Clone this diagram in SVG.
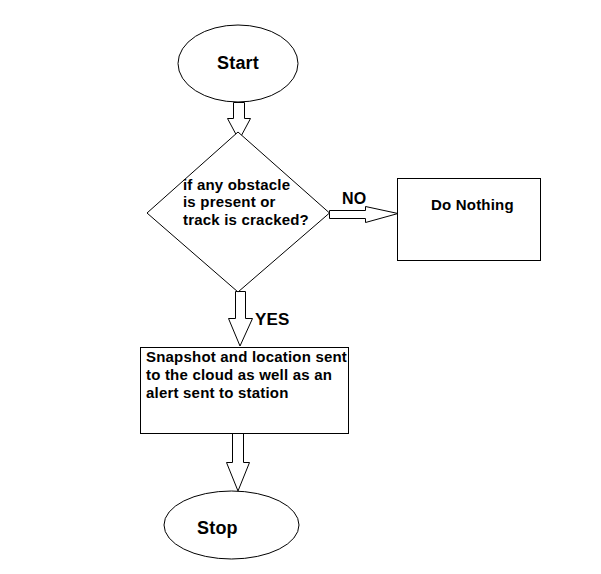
<svg xmlns="http://www.w3.org/2000/svg" width="601" height="574" viewBox="0 0 601 574">
<style>
.s{fill:#fff;stroke:#000;stroke-width:1}
.t{font-family:"Liberation Sans",Arial,sans-serif;font-weight:bold;font-size:15px;letter-spacing:0.2px;fill:#000}
.h{font-size:18px}
</style>
<rect width="601" height="574" fill="#fff"/>
<g id="connectors">
<path class="s" d="M233.5,102.5 H244.5 V118.5 H250.5 L239,140 L227.5,118.5 H233.5 Z"/>
<path class="s" d="M235.5,291.5 H245.5 V318.5 H252.5 L240,346 L228.5,318.5 H235.5 Z"/>
<path class="s" d="M329.5,210.5 H365.5 V206.5 L398,213.5 L365.5,222.5 V218.5 H329.5 Z"/>
<path class="s" d="M232.5,433.5 H243.5 V462.5 H249.5 L238,491 L226.5,462.5 H232.5 Z"/>
<text class="t" x="342" y="204" style="font-size:16px">NO</text>
<text class="t" x="255" y="325" style="font-size:17px">YES</text>
</g>
<g id="start">
<ellipse class="s" cx="238" cy="63.5" rx="60" ry="38.5"/>
<text class="t h" x="217" y="69">Start</text>
</g>
<g id="decision">
<path class="s" d="M238,132 L329.5,213 L238,292 L147,213 Z"/>
<text class="t" x="183" y="190">if any obstacle</text>
<text class="t" x="183" y="207">is present or</text>
<text class="t" x="183" y="225">track is cracked?</text>
</g>
<g id="do-nothing">
<rect class="s" x="397.5" y="178.5" width="143" height="82"/>
<text class="t" x="431" y="210">Do Nothing</text>
</g>
<g id="alert">
<rect class="s" x="140.5" y="347.5" width="208" height="86"/>
<text class="t" x="146" y="362">Snapshot and location sent</text>
<text class="t" x="146" y="380">to the cloud as well as an</text>
<text class="t" x="146" y="398">alert sent to station</text>
</g>
<g id="stop">
<ellipse class="s" cx="231.5" cy="525" rx="67.5" ry="34"/>
<text class="t h" x="197" y="534">Stop</text>
</g>
</svg>
